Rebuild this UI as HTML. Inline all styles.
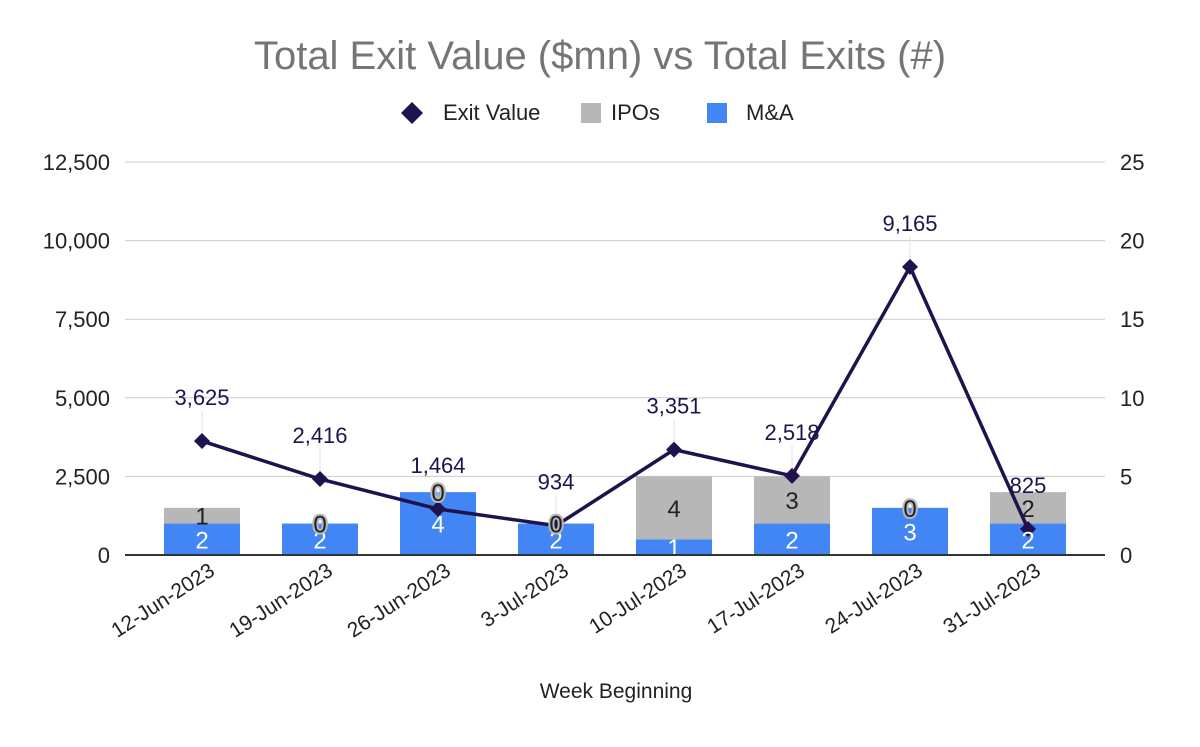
<!DOCTYPE html>
<html><head><meta charset="utf-8"><style>
body{margin:0;background:#fff;}
text{font-family:"Liberation Sans",Arial,sans-serif;}
</style></head><body>
<svg id="chart" width="1200" height="742" xmlns="http://www.w3.org/2000/svg">
<rect width="1200" height="742" fill="#fff"/>
<text x="600" y="69" text-anchor="middle" font-size="40" fill="#757575">Total Exit Value ($mn) vs Total Exits (#)</text>
<g>
 <g><path d="M412 102 L423 113 L412 124 L401 113Z" fill="#20124d"/><text x="443" y="120" font-size="22" fill="#222">Exit Value</text></g>
 <g><rect x="581" y="103" width="20" height="20" fill="#b7b7b7"/><text x="611" y="120" font-size="22" fill="#222">IPOs</text></g>
 <g><rect x="707" y="103" width="20" height="20" fill="#4285f4"/><text x="746" y="120" font-size="22" fill="#222">M&amp;A</text></g>
</g>
<g id="grid"></g><g id="bars"></g><g id="line"></g><g id="labels"></g><g id="axes"></g>
<text x="616" y="698" text-anchor="middle" font-size="21" fill="#222">Week Beginning</text>
</svg>
<script>
const categories=["12-Jun-2023","19-Jun-2023","26-Jun-2023","3-Jul-2023","10-Jul-2023","17-Jul-2023","24-Jul-2023","31-Jul-2023"];
const exitValue=[3625,2416,1464,934,3351,2518,9165,825];
const ipos=[1,0,0,0,4,3,0,2];
const mna=[2,2,4,2,1,2,3,2];
const leftTicks=[0,2500,5000,7500,10000,12500];
const rightTicks=[0,5,10,15,20,25];
const NS="http://www.w3.org/2000/svg";
const X0=143,BW=118,Y0=555,YT=162;
const yL=v=>Y0-(v/12500)*(Y0-YT);
const yR=v=>Y0-(v/25)*(Y0-YT);
const xC=i=>X0+BW*(i+0.5);
function mk(t,a,p){const e=document.createElementNS(NS,t);for(const k in a)e.setAttribute(k,a[k]);p.appendChild(e);return e;}
const fmt=v=>v.toLocaleString("en-US");
const g=document.getElementById("grid"),b=document.getElementById("bars"),l=document.getElementById("line"),lb=document.getElementById("labels"),ax=document.getElementById("axes");
leftTicks.forEach((t,i)=>{
 const y=yL(t);
 if(t>0){const gl=mk("line",{x1:125,x2:1105,y1:y,y2:y,stroke:"#cccccc","stroke-width":1},g);
 
 }
 const tx=mk("text",{x:110,y:y+8,"text-anchor":"end","font-size":22,fill:"#222"},ax);tx.textContent=fmt(t);
 
 
});
rightTicks.forEach(t=>{
 const tx=mk("text",{x:1120,y:yR(t)+8,"font-size":22,fill:"#222"},ax);tx.textContent=t;
 
 
});
const base=mk("line",{x1:125,x2:1105,y1:Y0,y2:Y0,stroke:"#333","stroke-width":2},ax);


categories.forEach((c,i)=>{
 const x=xC(i),w=76;
 const m=mk("rect",{x:x-w/2,y:yR(mna[i]),width:w,height:Y0-yR(mna[i]),fill:"#4285f4"},b);
 
 
 const p=mk("rect",{x:x-w/2,y:yR(mna[i]+ipos[i]),width:w,height:yR(mna[i])-yR(mna[i]+ipos[i]),fill:"#b7b7b7"},b);
 
 
 const mt=mk("text",{x:x,y:(Y0+yR(mna[i]))/2+9,"text-anchor":"middle","font-size":24,fill:"#fff"},lb);mt.textContent=mna[i];
 
 
 const iy=ipos[i]?(yR(mna[i])+yR(mna[i]+ipos[i]))/2+9:yR(mna[i])+9;
 const it=mk("text",{x:x,y:iy,"text-anchor":"middle","font-size":24,fill:"#222",stroke:ipos[i]?"none":"#b7b7b7","stroke-width":ipos[i]?0:4,"paint-order":"stroke"},lb);it.textContent=ipos[i];
 
 
 const xl=mk("text",{x:x+14,y:574,"text-anchor":"end","font-size":21,fill:"#222",transform:`rotate(-33 ${x+14} 574)`},ax);xl.textContent=c;
 
 
});
const pts=exitValue.map((v,i)=>xC(i)+","+yL(v)).join(" ");
const pl=mk("polyline",{points:pts,fill:"none",stroke:"#20124d","stroke-width":3.5,"stroke-linejoin":"round"},l);


exitValue.forEach((v,i)=>{
 const x=xC(i),y=yL(v);
 const lead=mk("line",{x1:x,x2:x,y1:y-30,y2:y-8,stroke:"#e0e0e0","stroke-width":1},l);
 
 
 const d=mk("path",{d:`M${x} ${y-8} L${x+8} ${y} L${x} ${y+8} L${x-8} ${y}Z`,fill:"#20124d"},l);
 
 
 const t=mk("text",{x:x,y:y-36,"text-anchor":"middle","font-size":22,fill:"#20124d"},lb);t.textContent=fmt(v);
 
 
});
</script>
</body></html>
